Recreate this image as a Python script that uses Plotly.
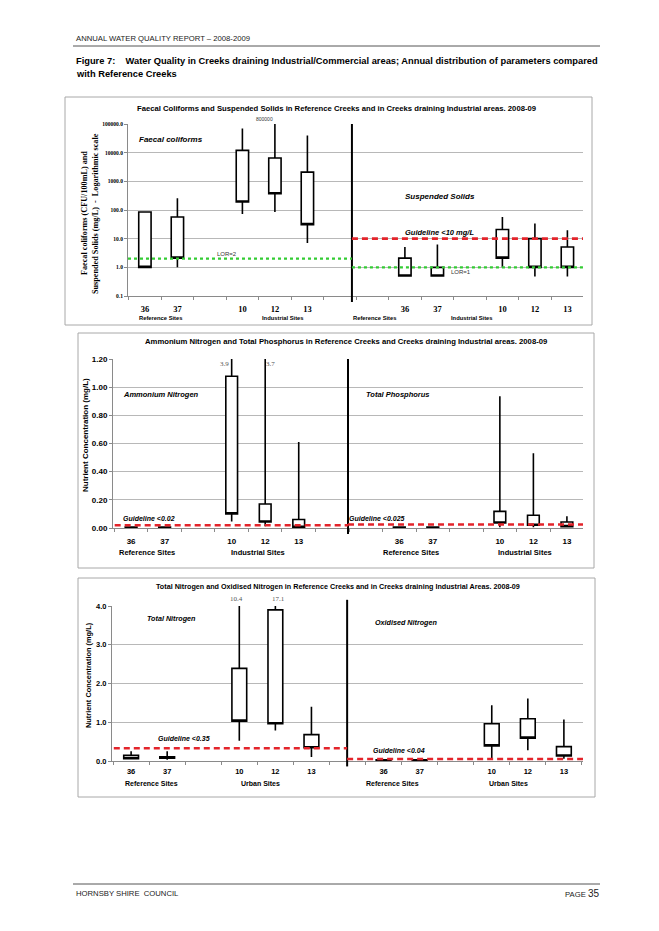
import plotly.graph_objects as go

W, H = 659, 931
SANS = "Liberation Sans, Arial, sans-serif"
SERIF = "Liberation Serif, Times New Roman, serif"

def px(x, y):
    return x / W, 1 - y / H

# ---------------- data ----------------
sites = ["36", "37", "10", "12", "13"]

# Chart 1 (log scale): Faecal coliforms (left) and Suspended solids (right)
fc_pos = [0, 1, 3, 4, 5]
fc_min = [1.0, 1.0, 72, 85, 7]
fc_q1 = [1.0, 2.1, 190, 370, 31]
fc_q3 = [85, 57, 12000, 6500, 2100]
fc_max = [85, 257, 69000, 800000, 40000]

ss_pos = [8, 9, 11, 12, 13]
ss_min = [0.5, 0.5, 1.0, 0.48, 0.48]
ss_q1 = [0.5, 0.5, 2.1, 1.0, 1.0]
ss_q3 = [2.1, 1.0, 21, 10, 5.1]
ss_max = [5.1, 6.2, 57, 34, 19.5]
fc_lor, ss_lor, ss_guide = 2, 1, 10

# Chart 2: Ammonium nitrogen (left) and Total phosphorus (right)
nh4_pos = [0, 1, 3, 4, 5]
nh4_min = [0.002, 0.002, 0.047, 0.012, 0.004]
nh4_q1 = [0.003, 0.003, 0.10, 0.043, 0.005]
nh4_q3 = [0.007, 0.007, 1.077, 0.17, 0.06]
nh4_max = [0.008, 0.008, 3.9, 3.7, 0.61]

tp_pos = [8, 9, 11, 12, 13]
tp_min = [0.002, 0.002, 0.005, 0.005, 0.008]
tp_q1 = [0.003, 0.003, 0.035, 0.019, 0.01]
tp_q3 = [0.006, 0.006, 0.118, 0.09, 0.043]
tp_max = [0.007, 0.007, 0.935, 0.53, 0.083]
nh4_guide, tp_guide = 0.02, 0.025

# Chart 3: Total nitrogen (left) and Oxidised nitrogen (right)
tn_pos = [0, 1, 3, 4, 5]
tn_min = [0.06, 0.03, 0.52, 0.79, 0.10]
tn_q1 = [0.06, 0.07, 1.03, 0.96, 0.34]
tn_q3 = [0.147, 0.11, 2.39, 3.9, 0.68]
tn_max = [0.25, 0.25, 10.4, 17.1, 1.4]

on_pos = [7, 8, 10, 11, 12]
on_min = [0.01, 0.01, 0.06, 0.28, 0.06]
on_q1 = [0.01, 0.01, 0.39, 0.59, 0.13]
on_q3 = [0.03, 0.03, 0.96, 1.09, 0.37]
on_max = [0.04, 0.04, 1.44, 1.61, 1.07]
tn_guide, on_guide = 0.33, 0.05

log_ticks = [0.1, 1, 10, 100, 1000, 10000, 100000]
log_ticktext = ["0.1", "1.0", "10.0", "100.0", "1000.0", "10000.0", "100000.0"]
nut2_ticks = [0, 0.2, 0.4, 0.6, 0.8, 1.0, 1.2]
nut2_ticktext = ["0.00", "0.20", "0.40", "0.60", "0.80", "1.00", "1.20"]
nut3_ticks = [0, 1, 2, 3, 4]
nut3_ticktext = ["0.0", "1.0", "2.0", "3.0", "4.0"]

# ---------------- geometry (pixels) ----------------
P1 = dict(l=128, r=583, t=124, b=296, xr=[-0.52, 13.48], div=6.37, bw=0.38)
P2 = dict(l=113, r=583, t=359, b=528, xr=[-0.54, 13.48], div=6.47, bw=0.35)
P3 = dict(l=112, r=583, t=606, b=761, xr=[-0.53, 12.53], div=5.99, bw=0.41)

fig = go.Figure()

def add_box(pos, lo, q1, q3, hi, xa, ya, bw):
    fig.add_trace(go.Box(
        x=pos, q1=q1, median=q1, q3=q3, lowerfence=lo, upperfence=hi,
        width=bw, whiskerwidth=0, fillcolor="white",
        line=dict(color="black", width=1.6), boxpoints=False,
        xaxis=xa, yaxis=ya, showlegend=False, hoverinfo="skip"))

add_box(fc_pos, fc_min, fc_q1, fc_q3, fc_max, "x", "y", P1["bw"])
add_box(ss_pos, ss_min, ss_q1, ss_q3, ss_max, "x", "y", P1["bw"])
add_box(nh4_pos, nh4_min, nh4_q1, nh4_q3, nh4_max, "x2", "y2", P2["bw"])
add_box(tp_pos, tp_min, tp_q1, tp_q3, tp_max, "x2", "y2", P2["bw"])
add_box(tn_pos, tn_min, tn_q1, tn_q3, tn_max, "x3", "y3", P3["bw"])
add_box(on_pos, on_min, on_q1, on_q3, on_max, "x3", "y3", P3["bw"])

def xdom(P):
    return [P["l"] / W, P["r"] / W]

def ydom(P):
    return [1 - P["b"] / H, 1 - P["t"] / H]

def xaxis(P, ya, tickvals, font, standoff):
    return dict(domain=xdom(P), anchor=ya, range=P["xr"], tickmode="array",
                tickvals=tickvals, ticktext=sites * 2, showgrid=False,
                zeroline=False, showline=True, linecolor="#8a8a8a", linewidth=1,
                ticks="", tickfont=font, ticklabelstandoff=standoff, automargin=False,
                minor=dict(tickmode="array",
                           tickvals=[k - 0.5 for k in range(0, 15)],
                           ticks="outside", ticklen=3, tickcolor="#8a8a8a",
                           showgrid=False))

def yaxis(P, xa, rng, tv, tt, font, log=False):
    d = dict(domain=ydom(P), anchor=xa, range=rng, tickmode="array", tickvals=tv,
             ticktext=tt, showgrid=True, gridcolor="#b8b8b8", gridwidth=1,
             zeroline=False, showline=True, linecolor="#8a8a8a", ticks="outside",
             ticklen=3, tickcolor="#8a8a8a", tickfont=font, automargin=False)
    if log:
        d["type"] = "log"
    return d

layout_axes = dict(
    xaxis=xaxis(P1, "y", fc_pos + ss_pos,
                dict(family=SERIF, size=8.5, color="black", weight="bold"), 5),
    yaxis=yaxis(P1, "x", [-1, 5], log_ticks, log_ticktext,
                dict(family=SERIF, size=5.5, color="black", weight="bold"), log=True),
    xaxis2=xaxis(P2, "y2", nh4_pos + tp_pos,
                 dict(family=SANS, size=8, color="black", weight="bold"), 5),
    yaxis2=yaxis(P2, "x2", [0, 1.2], nut2_ticks, nut2_ticktext,
                 dict(family=SANS, size=8, color="black", weight="bold")),
    xaxis3=xaxis(P3, "y3", tn_pos + on_pos,
                 dict(family=SANS, size=7.5, color="black", weight="bold"), 3),
    yaxis3=yaxis(P3, "x3", [0, 4], nut3_ticks, nut3_ticktext,
                 dict(family=SANS, size=7.5, color="black", weight="bold")),
)

shapes = []
# panel frames
for (l, t, r, b) in [(65, 97, 592, 325), (78, 333, 594, 568), (78, 578, 595, 797)]:
    x0, y1 = px(l, t)
    x1, y0 = px(r, b)
    shapes.append(dict(type="rect", xref="paper", yref="paper", x0=x0, x1=x1,
                       y0=y0, y1=y1, line=dict(color="#a8a8a8", width=1), layer="below"))
# header / footer rules
for yy in [46, 884]:
    shapes.append(dict(type="line", xref="paper", yref="paper", x0=73 / W, x1=600 / W,
                       y0=1 - yy / H, y1=1 - yy / H, line=dict(color="#555", width=1)))

# dividers
for P, xa, ya, top in [(P1, "x", "y", 1.0), (P2, "x2", "y2", 1.0), (P3, "x3", "y3", 1.04)]:
    shapes.append(dict(type="line", xref=xa, yref=ya + " domain", x0=P["div"], x1=P["div"],
                       y0=-0.035, y1=top, line=dict(color="black", width=2)))

RED = dict(color="#e3242b", width=2.6, dash="6px,4px")
GREEN = dict(color="#33cc33", width=2.2, dash="dot")

def hline(xa, ya, x0, x1, y, line):
    shapes.append(dict(type="line", xref=xa, yref=ya, x0=x0, x1=x1, y0=y, y1=y, line=line))

hline("x", "y", P1["xr"][0], P1["div"], fc_lor, GREEN)
hline("x", "y", P1["div"], P1["xr"][1], ss_lor, GREEN)
hline("x", "y", P1["div"], P1["xr"][1], ss_guide, RED)
hline("x2", "y2", P2["xr"][0] + 0.05, P2["div"], nh4_guide, RED)
hline("x2", "y2", P2["div"], P2["xr"][1], tp_guide, RED)
hline("x3", "y3", P3["xr"][0] + 0.05, P3["div"], tn_guide, RED)
hline("x3", "y3", P3["div"], P3["xr"][1], on_guide, RED)

ann = []

def text(x, y, s, size=7, family=SANS, bold=False, italic=False, color="black",
         xanchor="center", angle=0):
    ax, ay = px(x, y)
    ann.append(dict(xref="paper", yref="paper", x=ax, y=ay, text=s, showarrow=False,
                    xanchor=xanchor, yanchor="middle", textangle=angle, borderpad=0,
                    font=dict(family=family, size=size, color=color,
                              weight="bold" if bold else "normal",
                              style="italic" if italic else "normal")))

# page header / caption / footer
text(75, 38, "ANNUAL WATER QUALITY REPORT \u2013 2008-2009", size=7.7,
     xanchor="left", color="#222")
text(75, 61, "Figure 7:&nbsp;&nbsp;&nbsp;&nbsp;Water Quality in Creeks draining Industrial/Commercial areas; "
     "Annual distribution of parameters compared", size=9.3, bold=True, xanchor="left")
text(75, 74, "with Reference Creeks", size=9.3, bold=True, xanchor="left")
text(75, 893, "HORNSBY SHIRE&nbsp;&nbsp;COUNCIL", size=7.7, xanchor="left", color="#222")
text(600, 893, "PAGE <span style='font-size:10px'>35</span>", size=7.7,
     xanchor="right", color="#222")

# chart titles
text(336, 108, "Faecal Coliforms and Suspended Solids in Reference Creeks and in Creeks "
     "draining Industrial areas. 2008-09", size=7.7, bold=True)
text(346, 342, "Ammonium Nitrogen and Total Phosphorus in Reference Creeks and Creeks "
     "draining Industrial areas. 2008-09", size=7.7, bold=True)
text(338, 586, "Total Nitrogen and Oxidised Nitrogen in Reference Creeks and in Creeks "
     "draining Industrial Areas. 2008-09", size=7.2, bold=True)

# y titles
text(85, 213, "Faecal coliforms (CFU/100mL) and", size=8.2, family=SERIF, bold=True, angle=-90)
text(96, 214, "Suspended Solids (mg/L)&nbsp;&nbsp;-&nbsp;&nbsp;Logarithmic scale", size=8.2,
     family=SERIF, bold=True, angle=-90)
text(86, 435, "Nutrient Concentration (mg/L)", size=8, bold=True, angle=-90)
text(88, 675, "Nutrient Concentration (mg/L)", size=7.4, bold=True, angle=-90)

# group labels
for x, y, s in [(161, 318, "Reference Sites"), (283, 318, "Industrial Sites"),
                (375, 318, "Reference Sites"), (472, 318, "Industrial Sites")]:
    text(x, y, s, size=5.8, bold=True)
for x, y, s in [(147, 552, "Reference Sites"), (258, 552, "Industrial Sites"),
                (411, 552, "Reference Sites"), (525, 552, "Industrial Sites")]:
    text(x, y, s, size=7.5, bold=True)
for x, y, s in [(151, 783, "Reference Sites"), (260, 783, "Urban Sites"),
                (392, 783, "Reference Sites"), (508, 783, "Urban Sites")]:
    text(x, y, s, size=7, bold=True)

# chart 1 inner labels
text(138, 139, "Faecal coliforms", size=8, bold=True, italic=True, xanchor="left")
text(404, 196, "Suspended Solids", size=8, bold=True, italic=True, xanchor="left")
text(404, 233, "Guideline <10 mg/L", size=7.5, bold=True, italic=True, xanchor="left")
text(216, 254, "LOR=2", size=6, color="#333", xanchor="left")
text(450, 272, "LOR=1", size=6, color="#333", xanchor="left")
text(264, 119, "800000", size=5, color="#333")

# chart 2 inner labels
text(122, 394, "Ammonium Nitrogen", size=7.5, bold=True, italic=True, xanchor="left")
text(365, 394, "Total Phosphorus", size=7.5, bold=True, italic=True, xanchor="left")
text(122, 518, "Guideline <0.02", size=7, bold=True, italic=True, xanchor="left")
text(348, 518, "Guideline <0.025", size=7, bold=True, italic=True, xanchor="left")
text(224, 364, "3.9", size=7, family=SERIF, color="#555")
text(270, 364, "3.7", size=7, family=SERIF, color="#555")

# chart 3 inner labels
text(146, 618, "Total Nitrogen", size=7.2, bold=True, italic=True, xanchor="left")
text(374, 622, "Oxidised Nitrogen", size=7.2, bold=True, italic=True, xanchor="left")
text(157, 738, "Guideline <0.35", size=7, bold=True, italic=True, xanchor="left")
text(372, 750, "Guideline <0.04", size=7, bold=True, italic=True, xanchor="left")
text(236, 599, "10.4", size=7, family=SERIF, color="#555")
text(278, 599, "17.1", size=7, family=SERIF, color="#555")

fig.update_layout(
    width=W, height=H, margin=dict(l=0, r=0, t=0, b=0, pad=0), autosize=False,
    paper_bgcolor="white", plot_bgcolor="white", showlegend=False,
    shapes=shapes, annotations=ann, boxmode="overlay", **layout_axes)

fig.write_html("out.html", config={"displayModeBar": False, "staticPlot": True},
               post_script="document.body.style.margin='0';document.body.style.overflow='hidden';")
